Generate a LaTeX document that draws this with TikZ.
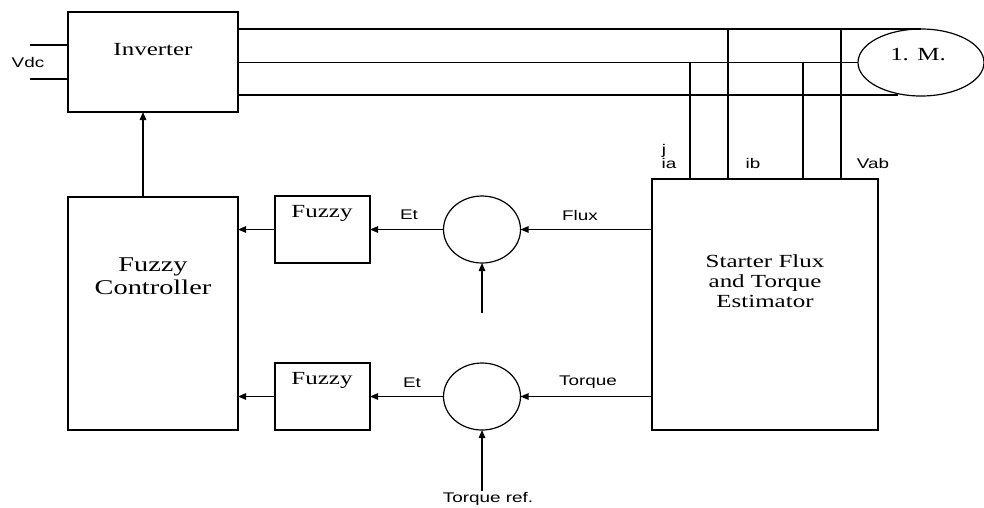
\documentclass[tikz,border=0pt]{standalone}
\usepackage{fontspec}
\setmainfont[FakeStretch=1.35]{Liberation Serif}
\newfontfamily\labfont[FakeStretch=1.35]{Liberation Sans}
\usetikzlibrary{arrows.meta,shapes.geometric}
\begin{document}
\begin{tikzpicture}[x=1pt,y=-1pt,
  line width=1.2pt,
  box/.style={draw,rectangle,inner sep=0,outer sep=0,line width=1.3pt},
  circ/.style={draw,ellipse,inner sep=0,outer sep=0,minimum width=77,minimum height=67},
  arr/.style={-{Triangle[length=8pt,width=6.5pt]}},
  btxt/.style={inner sep=0,font=\fontsize{18.5}{20}\selectfont,align=center},
  slab/.style={inner sep=0,font=\labfont\fontsize{14}{16}\selectfont}]
\useasboundingbox (0,0) rectangle (984,507);
% boxes
\node[box,minimum width=170,minimum height=100] (inv) at (153,62) {};
\node[box,minimum width=170,minimum height=233] (fc) at (153,313.5) {};
\node[box,minimum width=95,minimum height=67] (fz1) at (322.5,229.5) {};
\node[box,minimum width=95,minimum height=67] (fz2) at (322.5,396.5) {};
\node[box,minimum width=226,minimum height=251] (est) at (765,304.5) {};
\node[circ] (c1) at (482,229.5) {};
\node[circ] (c2) at (482,396.5) {};
\node[draw,ellipse,inner sep=0,outer sep=0,minimum width=126,minimum height=67] (motor) at (921,62.5) {};
% box texts
\node[btxt] (tinv) at (153,50) {Inverter};
\node[btxt,font=\fontsize{21}{23}\selectfont] (tfc) at (153,276) {Fuzzy\\Controller};
\node[btxt] (tfz1) at (322,213) {Fuzzy};
\node[btxt] (tfz2) at (322,380) {Fuzzy};
\node[btxt] (test) at (765,281) {Starter Flux\\and Torque\\Estimator};
\node[btxt] (tmot) at (918,55) {1. M.};
% labels
\node[slab] (lvdc) at (28,62) {Vdc};
\node[slab] (lj) at (664,151) {j};
\node[slab] (lia) at (669,163) {ia};
\node[slab] (lib) at (753,163) {ib};
\node[slab] (lvab) at (873,163) {Vab};
\node[slab] (let1) at (409,215) {Et};
\node[slab] (lflux) at (580,215) {Flux};
\node[slab] (let2) at (412,383) {Et};
\node[slab] (ltq) at (588,382) {Torque};
\node[slab] (ltqr) at (488,499) {Torque ref.};
% Vdc input lines
\coordinate (v1) at (30,45);
\coordinate (v2) at (30,79);
\draw (v1) -- (v1 -| inv.west);
\draw (v2) -- (v2 -| inv.west);
% three phase lines
\coordinate (mb) at (898,95);
\draw (inv.east |- motor.north) -- (motor.north);
\draw (inv.east |- motor.west) -- (motor.west);
\draw (inv.east |- mb) -- (mb);
% sensing taps
\draw (690,62.5) -- (690,0 |- est.north);
\draw (728,29) -- (728,0 |- est.north);
\draw (803,62.5) -- (803,0 |- est.north);
\draw (841,29) -- (841,0 |- est.north);
% control arrows
\draw[arr] ([xshift=-10]fc.north) -- ([xshift=-10]inv.south);
\draw[arr] (fz1.west) -- (fz1.west -| fc.east);
\draw[arr] (c1.west) -- (fz1.east);
\draw[arr] (c1.east -| est.west) -- (c1.east);
\coordinate (fref) at (482,313);
\draw[arr] (fref) -- (c1.south);
\draw[arr] (fz2.west) -- (fz2.west -| fc.east);
\draw[arr] (c2.west) -- (fz2.east);
\draw[arr] (c2.east -| est.west) -- (c2.east);
\coordinate (tref) at (482,491);
\draw[arr] (tref) -- (c2.south);
\end{tikzpicture}
\end{document}
